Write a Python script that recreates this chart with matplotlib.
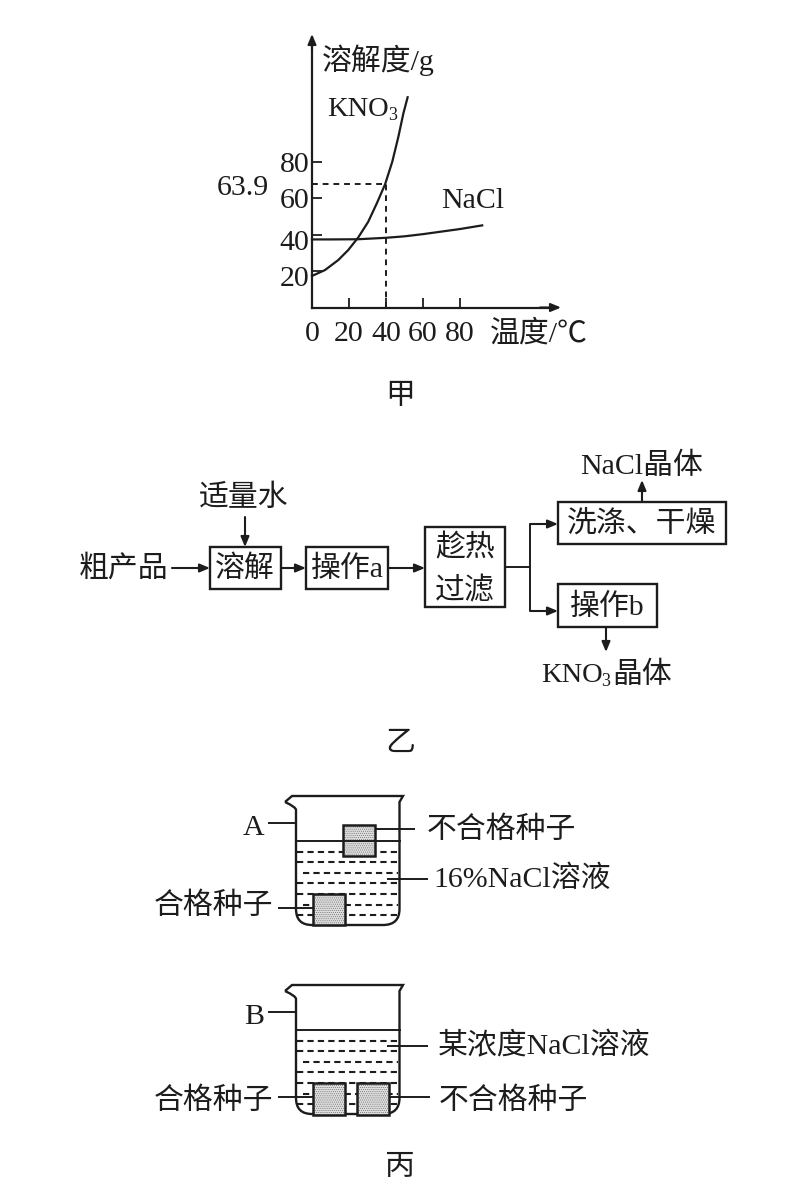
import matplotlib
matplotlib.use('Agg')
import matplotlib.pyplot as plt
from matplotlib.patches import Rectangle, PathPatch
from matplotlib.path import Path
from matplotlib.transforms import ScaledTranslation

plt.rcParams['font.family'] = ['Liberation Serif', 'Noto Sans CJK SC', 'DejaVu Sans']
plt.rcParams['hatch.linewidth'] = 0.4

# solubility curves
kno3_temp = [0, 7, 14.2, 19.6, 25, 30.4, 35, 39.5, 43.4, 46.7, 49.4, 51.7]
kno3_sol = [17.3, 20.5, 26, 31.5, 38.4, 47, 57, 67.5, 79.9, 93.6, 106.4, 115.2]
nacl_temp = [0, 10, 25, 40, 50, 60, 70, 80, 92]
nacl_sol = [37.3, 37.3, 37.4, 38.2, 39, 40.2, 41.6, 43, 45]
x_ticks = [0, 20, 40, 60, 80]
y_ticks = [20, 40, 60, 80]
marked_temp = 40
marked_sol = 67.6

INK = '#1c1c1c'
FS = 21.5
W, H = 795, 1199

fig = plt.figure(figsize=(W / 100, H / 100), dpi=100, facecolor='white')

# whole figure in pixel coords for the diagrams and labels
bg = fig.add_axes([0, 0, 1, 1])
bg.set_xlim(0, W)
bg.set_ylim(H, 0)
bg.axis('off')

# chart axes, origin at pixel (312, 307)
left, bottom, right, top = 312, 307.5, 556, 40
ch = fig.add_axes([left / W, 1 - bottom / H, (right - left) / W, (bottom - top) / H])
ch.set_xlim(0, (right - left) / 1.85)
ch.set_ylim(0, (bottom - top) / 1.825)
ch.patch.set_alpha(0)
ch.spines['top'].set_visible(False)
ch.spines['right'].set_visible(False)
ch.spines['left'].set_linewidth(1.6)
ch.spines['bottom'].set_linewidth(1.6)
ch.spines['left'].set_color(INK)
ch.spines['bottom'].set_color(INK)
ch.set_xticks(x_ticks)
ch.set_yticks(y_ticks)
ch.tick_params(axis='both', direction='in', length=7, width=1.3, color=INK,
               labelsize=FS, labelcolor=INK)
ch.tick_params(axis='x', pad=10)
ch.tick_params(axis='y', pad=2)
ch.xaxis.get_major_ticks()[0].tick1line.set_visible(False)

# the 20 and 40 labels sit a bit under their ticks in the original
for lab, dy in zip(ch.get_yticklabels(), [-5, -5, 0, 0]):
    lab.set_transform(lab.get_transform() + ScaledTranslation(0, dy / 100, fig.dpi_scale_trans))

ch.plot(kno3_temp, kno3_sol, color=INK, lw=1.6, clip_on=False)
ch.plot(nacl_temp, nacl_sol, color=INK, lw=1.6, clip_on=False)
ch.plot([0, marked_temp], [marked_sol, marked_sol], color=INK, lw=1.4, ls=(0, (3, 2.5)))
ch.plot([marked_temp, marked_temp], [0, marked_sol], color=INK, lw=1.4, ls=(0, (3, 2.5)))


def label(x, y, s, ha='center', size=FS):
    bg.text(x, y + 3, s, ha=ha, va='center', fontsize=size, color=INK)


def line(xs, ys, lw=1.4, **kw):
    bg.plot(xs, ys, color=INK, lw=lw, solid_capstyle='butt', **kw)


def arrow(x0, y0, x1, y1):
    bg.annotate('', xy=(x1, y1), xytext=(x0, y0),
                arrowprops=dict(arrowstyle='-|>,head_length=0.6,head_width=0.25', color=INK,
                                lw=1.5, shrinkA=0, shrinkB=0))


def box(x0, y0, x1, y1):
    bg.add_patch(Rectangle((x0, y0), x1 - x0, y1 - y0, fc='white', ec=INK, lw=1.7))


# chart labels
arrow(312, 50, 312, 34)
arrow(540, 307.5, 561, 307.5)
label(322, 57, '溶解度/g', ha='left')
label(327, 106, 'KNO', ha='left', size=20.5)
label(388, 113, '3', ha='left', size=13)
label(217, 185, '63.9', ha='left')
label(441, 198, 'NaCl', ha='left')
label(490, 331, '温度/℃', ha='left')
label(400, 394, '甲')

# flow chart
box(210, 547, 281, 589)
box(306, 547, 388, 589)
box(425, 527, 505, 607)
box(558, 502, 726, 544)
box(558, 584, 657, 627)
arrow(172, 568, 210, 568)
arrow(245, 517, 245, 547)
arrow(281, 568, 306, 568)
arrow(388, 568, 425, 568)
line([505, 530], [567, 567])
line([530, 530], [524, 611])
arrow(530, 524, 558, 524)
arrow(530, 611, 558, 611)
arrow(642, 502, 642, 480)
arrow(606, 627, 606, 652)

label(124, 566, '粗产品')
label(244, 495, '适量水')
label(245, 566, '溶解')
label(347, 566, '操作a')
label(465, 545, '趁热')
label(465, 588, '过滤')
label(642, 521, '洗涤、干燥')
label(607, 604, '操作b')
label(642, 463, 'NaCl晶体')
label(541, 672, 'KNO', ha='left', size=20.5)
label(601, 679, '3', ha='left', size=13)
label(612, 672, '晶体', ha='left')
label(400, 741, '乙')


def beaker(top_y):
    # outline drawn relative to the rim height
    bot = top_y + 129
    verts = [(285, top_y + 6), (292, top_y), (403, top_y), (399.5, top_y + 6),
             (399.5, bot - 16), (399.5, bot), (383, bot), (312, bot),
             (296, bot), (296, bot - 16), (296, top_y + 14), (296, top_y + 11), (285, top_y + 6)]
    codes = [Path.MOVETO, Path.LINETO, Path.LINETO, Path.LINETO,
             Path.LINETO, Path.CURVE3, Path.CURVE3, Path.LINETO,
             Path.CURVE3, Path.CURVE3, Path.LINETO, Path.CURVE3, Path.CURVE3]
    bg.add_patch(PathPatch(Path(verts, codes), fc='none', ec=INK, lw=1.7))
    for i in range(7):
        y = top_y + 55.5 + i * 10.6
        x0 = 303 if i % 3 == 2 else 297
        bg.plot([x0, 398], [y, y], color=INK, lw=1.5, ls=(0, (3, 2)))


def seed(x0, y0):
    bg.add_patch(Rectangle((x0, y0), 32, 31.5, fc='#dedede', ec='#6a6a6a', lw=0,
                           hatch='........', zorder=3))
    bg.add_patch(Rectangle((x0, y0), 32, 31.5, fc='none', ec=INK, lw=1.8, zorder=4))


# beaker A
beaker(796)
seed(342.7, 824.5)
seed(312.7, 893.7)
bg.plot([296, 399.5], [841, 841], color=INK, lw=1.4, zorder=5)
line([268, 296], [823, 823])
line([375, 415], [829, 829])
line([387, 428], [879, 879])
line([278, 313], [908, 908])
label(254, 825, 'A')
label(501, 827, '不合格种子')
label(522, 876, '16%NaCl溶液')
label(214, 903, '合格种子')

# beaker B
beaker(985)
seed(313.3, 1083)
seed(357.3, 1083)
bg.plot([296, 399.5], [1030, 1030], color=INK, lw=1.4, zorder=5)
line([268, 296], [1012, 1012])
line([387, 428], [1046, 1046])
line([278, 313], [1097, 1097])
line([389, 430], [1097, 1097])
label(254, 1014, 'B')
label(544, 1043, '某浓度NaCl溶液')
label(214, 1098, '合格种子')
label(513, 1098, '不合格种子')
label(400, 1165, '丙')

fig.savefig('out.png', dpi=100)
